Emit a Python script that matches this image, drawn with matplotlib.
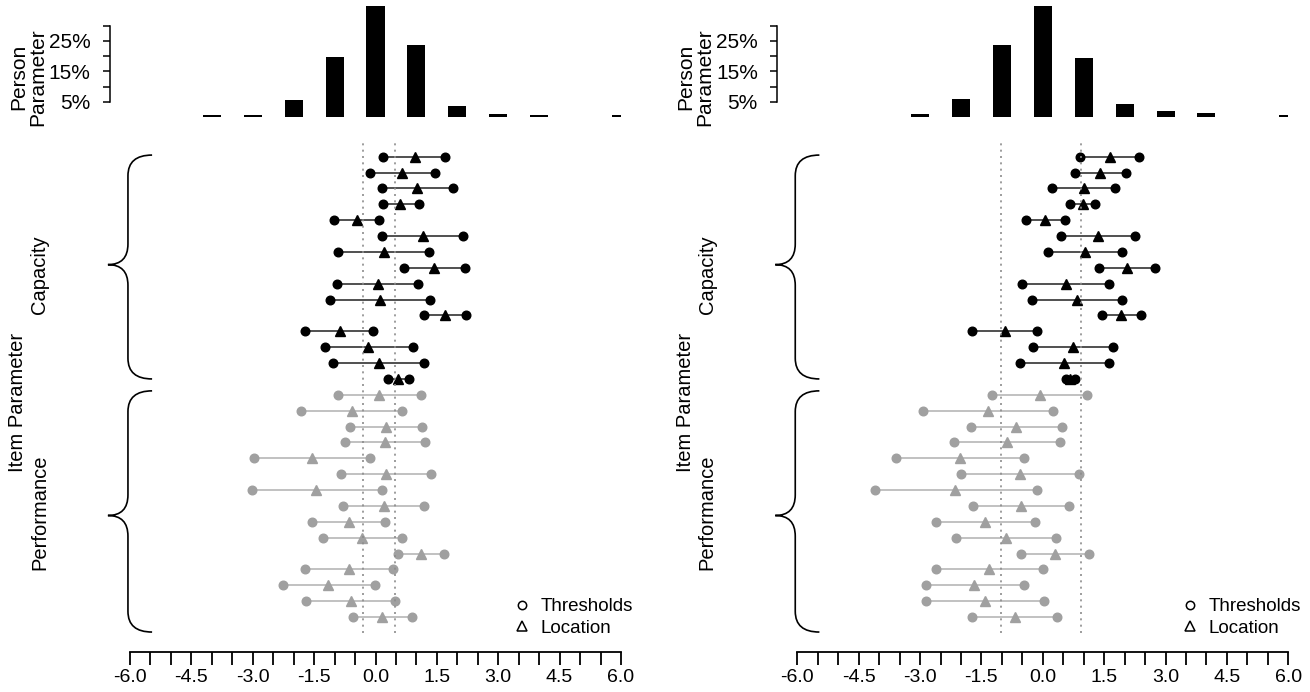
import matplotlib
matplotlib.use('Agg')
import matplotlib.pyplot as plt
import numpy as np
from matplotlib.path import Path
from matplotlib.patches import PathPatch
from matplotlib.lines import Line2D

plt.rcParams['font.family'] = ['Liberation Sans', 'DejaVu Sans']

W, H = 1310, 692

# person parameter distribution (% of persons per bin)
left_bins = [-4, -3, -2, -1, 0, 1, 2, 3, 4, 6]
left_pct = [0.6, 0.6, 5.5, 19.7, 44.2, 23.6, 3.5, 1.1, 0.6, 0.6]
right_bins = [-3, -2, -1, 0, 1, 2, 3, 4, 6]
right_pct = [1.0, 6.0, 23.6, 42.0, 19.4, 4.2, 2.1, 1.2, 0.5]

# item thresholds and locations, rows top to bottom
left_cap_lo = [0.18, -0.13, 0.16, 0.18, -1.01, 0.16, -0.92, 0.69, -0.94, -1.11, 1.19, -1.72, -1.24, -1.05, 0.30]
left_cap_hi = [1.71, 1.46, 1.89, 1.07, 0.09, 2.14, 1.31, 2.18, 1.05, 1.32, 2.20, -0.05, 0.91, 1.19, 0.83]
left_cap_loc = [0.96, 0.65, 1.02, 0.61, -0.46, 1.15, 0.20, 1.43, 0.06, 0.12, 1.71, -0.86, -0.18, 0.09, 0.56]
left_perf_lo = [-0.92, -1.81, -0.63, -0.75, -2.98, -0.84, -3.02, -0.79, -1.55, -1.29, 0.55, -1.72, -2.26, -1.69, -0.54]
left_perf_hi = [1.10, 0.65, 1.14, 1.22, -0.13, 1.36, 0.17, 1.19, 0.22, 0.65, 1.67, 0.43, -0.02, 0.48, 0.88]
left_perf_loc = [0.09, -0.57, 0.26, 0.22, -1.55, 0.26, -1.45, 0.20, -0.65, -0.32, 1.11, -0.65, -1.15, -0.60, 0.17]

right_cap_lo = [0.92, 0.79, 0.23, 0.67, -0.40, 0.45, 0.13, 1.37, -0.51, -0.26, 1.44, -1.73, -0.23, -0.55, 0.56]
right_cap_hi = [2.35, 2.04, 1.76, 1.27, 0.54, 2.25, 1.93, 2.75, 1.61, 1.93, 2.39, -0.13, 1.72, 1.61, 0.78]
right_cap_loc = [1.65, 1.40, 1.01, 0.99, 0.06, 1.35, 1.04, 2.05, 0.56, 0.83, 1.92, -0.93, 0.74, 0.53, 0.67]
right_perf_lo = [-1.24, -2.93, -1.76, -2.18, -3.58, -2.01, -4.11, -1.70, -2.62, -2.13, -0.54, -2.62, -2.85, -2.85, -1.72]
right_perf_hi = [1.09, 0.26, 0.46, 0.43, -0.46, 0.88, -0.15, 0.64, -0.20, 0.32, 1.14, 0.01, -0.47, 0.03, 0.34]
right_perf_loc = [-0.07, -1.34, -0.65, -0.87, -2.02, -0.56, -2.15, -0.53, -1.41, -0.91, 0.30, -1.31, -1.67, -1.41, -0.67]

xticks = np.arange(-6, 6.01, 0.5)
xticklabels = [f"{v:.1f}" if np.isclose(v / 1.5, round(v / 1.5)) else "" for v in xticks]

BLACK = '#000000'
GREY = '#a0a0a0'


def rect(x0, y0, x1, y1):
    return [x0 / W, 1 - y1 / H, (x1 - x0) / W, (y1 - y0) / H]


def brace(ax, top, mid, bot, x_tip=-5.46, x_v=-6.05, x_p=-6.54, r=1.3):
    verts = [(x_tip, top), (x_v, top), (x_v, top + r),
             (x_v, mid - r), (x_v, mid), (x_p, mid),
             (x_v, mid), (x_v, mid + r),
             (x_v, bot - r), (x_v, bot), (x_tip, bot)]
    codes = [Path.MOVETO, Path.CURVE3, Path.CURVE3,
             Path.LINETO, Path.CURVE3, Path.CURVE3,
             Path.CURVE3, Path.CURVE3,
             Path.LINETO, Path.CURVE3, Path.CURVE3]
    ax.add_patch(PathPatch(Path(verts, codes), fill=False, lw=1.2,
                           color='black', clip_on=False))


def draw_panel(fig, x0, bins, pct, cap, perf):
    x1 = x0 + 491.0

    # histogram of person parameters
    hx = fig.add_axes(rect(x0, 6, x1, 117))
    hx.bar(bins, pct, width=0.44, color='black')
    hx.set_xlim(-6, 6)
    hx.set_ylim(0, 111 / 3.05)
    for s in ['top', 'right', 'bottom']:
        hx.spines[s].set_visible(False)
    hx.spines['left'].set_position(('outward', 14.4))
    hx.spines['left'].set_bounds(5, 30)
    hx.spines['left'].set_linewidth(1.1)
    hx.set_xticks([])
    hx.set_yticks(range(5, 31, 5))
    hx.set_yticklabels(['5%', '', '15%', '', '25%', ''])
    hx.tick_params(axis='y', direction='out', length=5, width=1.1,
                   labelsize=15, pad=9)

    # item map
    ax = fig.add_axes(rect(x0, 143, x1, 633))
    rows = np.arange(30)
    groups = [(cap, rows[:15], BLACK, '#202020'), (perf, rows[15:], GREY, '#b0b0b0')]
    for (lo, hi, loc), yy, mc, lc in groups:
        for a, b, y in zip(lo, hi, yy):
            ax.plot([a, b], [y, y], color=lc, lw=1.1, zorder=1)
        ax.plot(loc, yy, '^', ms=7.2, color=mc, zorder=2)
        ax.plot(lo, yy, 'o', ms=6.2, color=mc, zorder=3)
        ax.plot(hi, yy, 'o', ms=6.2, color=mc, zorder=3)
        ax.axvline(np.mean(loc), color='#8c8c8c', lw=1.2, ls=(0, (1.2, 2.6)), zorder=4)

    ax.set_xlim(-6, 6)
    ax.set_ylim(30, -0.86)
    for s in ['top', 'right', 'left']:
        ax.spines[s].set_visible(False)
    ax.spines['bottom'].set_position(('outward', 13.7))
    ax.spines['bottom'].set_bounds(-6, 6)
    ax.spines['bottom'].set_linewidth(1.3)
    ax.set_yticks([])
    ax.set_xticks(xticks)
    ax.set_xticklabels(xticklabels)
    ax.tick_params(axis='x', direction='out', length=9.4, width=1.3,
                   labelsize=14, pad=3)

    brace(ax, -0.1, 6.8, 14.0)
    brace(ax, 14.75, 22.6, 29.94)

    off = x0 - 130
    fig.text((28 + off) / W, 1 - 77 / H, 'Person\nParameter', rotation=90,
             ha='center', va='center', fontsize=15, linespacing=1.0)
    fig.text((18 + off) / W, 1 - 402 / H, 'Item Parameter', rotation=90,
             ha='center', va='center', fontsize=14.5)
    fig.text((40 + off) / W, 1 - 275 / H, 'Capacity', rotation=90,
             ha='center', va='center', fontsize=14.5)
    fig.text((40 + off) / W, 1 - 512 / H, 'Performance', rotation=90,
             ha='center', va='center', fontsize=14.5)

    handles = [Line2D([], [], marker='o', ls='none', mfc='none', mec='black', ms=6, mew=1.1),
               Line2D([], [], marker='^', ls='none', mfc='none', mec='black', ms=7, mew=1.1)]
    ax.legend(handles, ['Thresholds', 'Location'], loc='upper left',
              bbox_to_anchor=((1182 - 667.3 + off) / W, 1 - 598 / H),
              bbox_transform=fig.transFigure, frameon=False, fontsize=13.5,
              handlelength=0.8, handletextpad=0.6, labelspacing=0.25,
              borderpad=0, borderaxespad=0)


fig = plt.figure(figsize=(W / 100, H / 100), dpi=100)
draw_panel(fig, 130, left_bins, left_pct,
           (left_cap_lo, left_cap_hi, left_cap_loc),
           (left_perf_lo, left_perf_hi, left_perf_loc))
draw_panel(fig, 797.3, right_bins, right_pct,
           (right_cap_lo, right_cap_hi, right_cap_loc),
           (right_perf_lo, right_perf_hi, right_perf_loc))
fig.savefig('out.png', dpi=100)
